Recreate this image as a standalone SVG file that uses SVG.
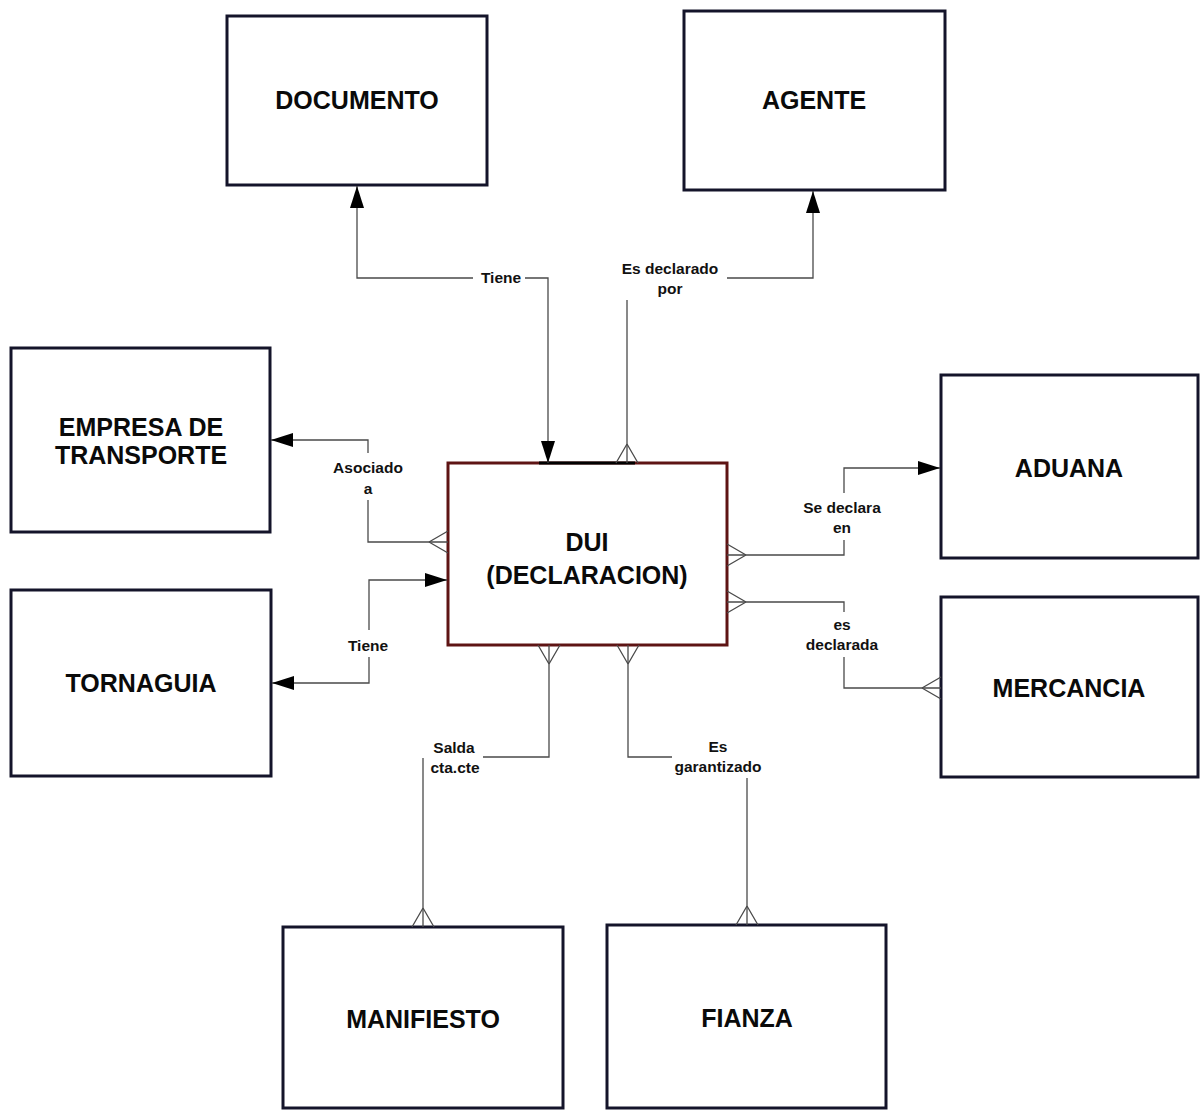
<svg xmlns="http://www.w3.org/2000/svg" width="1203" height="1111" viewBox="0 0 1203 1111">
<style>
.box{fill:#fff;stroke:#14142a;stroke-width:3}
.dui{fill:#fff;stroke:#5e1414;stroke-width:3}
.name{font-family:"Liberation Sans",Arial,sans-serif;font-weight:bold;font-size:25px;fill:#0a0a0a;text-anchor:middle}
.lbl{font-family:"Liberation Sans",Arial,sans-serif;font-weight:bold;font-size:15.5px;fill:#111;text-anchor:middle}
.ln{fill:none;stroke:#4a4a4a;stroke-width:1.3}
</style>
<defs>
<marker id="arr" markerUnits="userSpaceOnUse" viewBox="0 0 22 14" refX="22" refY="7" markerWidth="22" markerHeight="14" orient="auto-start-reverse">
<path d="M0,0 L22,7 L0,14 Z" fill="#000"/>
</marker>
<marker id="crow" markerUnits="userSpaceOnUse" viewBox="0 -12 22 24" refX="20" refY="0" markerWidth="22" markerHeight="24" orient="auto-start-reverse">
<path d="M1,0 L20,-11 M1,0 L20,11" fill="none" stroke="#4a4a4a" stroke-width="1.3"/>
</marker>
</defs>
<rect width="1203" height="1111" fill="#fff"/>

<g id="DOCUMENTO"><rect class="box" x="227" y="16" width="260" height="169"/><text class="name" x="357" y="109">DOCUMENTO</text></g>
<g id="AGENTE"><rect class="box" x="684" y="11" width="261" height="179"/><text class="name" x="814" y="109">AGENTE</text></g>
<g id="EMPRESA"><rect class="box" x="11" y="348" width="259" height="184"/><text class="name" x="141" y="436">EMPRESA DE</text><text class="name" x="141" y="464">TRANSPORTE</text></g>
<g id="TORNAGUIA"><rect class="box" x="11" y="590" width="260" height="186"/><text class="name" x="141" y="692">TORNAGUIA</text></g>
<g id="DUI"><rect class="dui" x="448" y="463" width="279" height="182"/><line x1="539" y1="463" x2="635" y2="463" stroke="#000" stroke-width="3"/><text class="name" x="587" y="551">DUI</text><text class="name" x="587" y="584">(DECLARACION)</text></g>
<g id="ADUANA"><rect class="box" x="941" y="375" width="257" height="183"/><text class="name" x="1069" y="477">ADUANA</text></g>
<g id="MERCANCIA"><rect class="box" x="941" y="597" width="257" height="180"/><text class="name" x="1069" y="697">MERCANCIA</text></g>
<g id="MANIFIESTO"><rect class="box" x="283" y="927" width="280" height="181"/><text class="name" x="423" y="1028">MANIFIESTO</text></g>
<g id="FIANZA"><rect class="box" x="607" y="925" width="279" height="183"/><text class="name" x="747" y="1027">FIANZA</text></g>

<g id="connectors">
<path class="ln" d="M525,278 H548 V463" marker-end="url(#arr)"/>
<path class="ln" d="M473,278 H357 V186" marker-end="url(#arr)"/>
<text class="lbl" x="501" y="283">Tiene</text>

<path class="ln" d="M627,300 V463" marker-end="url(#crow)"/>
<path class="ln" d="M727,278 H813 V191" marker-end="url(#arr)"/>
<text class="lbl" x="670" y="274">Es declarado</text>
<text class="lbl" x="670" y="294">por</text>

<path class="ln" d="M368,500 V542 H448" marker-end="url(#crow)"/>
<path class="ln" d="M368,453 V440 H271" marker-end="url(#arr)"/>
<text class="lbl" x="368" y="473">Asociado</text>
<text class="lbl" x="368" y="494">a</text>

<path class="ln" d="M369,630 V580 H447" marker-end="url(#arr)"/>
<path class="ln" d="M369,657 V683 H272" marker-end="url(#arr)"/>
<text class="lbl" x="368" y="651">Tiene</text>

<path class="ln" d="M727,555 H844 V540" marker-start="url(#crow)"/>
<path class="ln" d="M844,493 V468 H940" marker-end="url(#arr)"/>
<text class="lbl" x="842" y="513">Se declara</text>
<text class="lbl" x="842" y="533">en</text>

<path class="ln" d="M727,602 H844 V612" marker-start="url(#crow)"/>
<path class="ln" d="M844,657 V688 H941" marker-end="url(#crow)"/>
<text class="lbl" x="842" y="630">es</text>
<text class="lbl" x="842" y="650">declarada</text>

<path class="ln" d="M549,645 V757 H483" marker-start="url(#crow)"/>
<path class="ln" d="M423,758 V927" marker-end="url(#crow)"/>
<text class="lbl" x="454" y="753">Salda</text>
<text class="lbl" x="455" y="773">cta.cte</text>

<path class="ln" d="M628,645 V757 H672" marker-start="url(#crow)"/>
<path class="ln" d="M747,778 V925" marker-end="url(#crow)"/>
<text class="lbl" x="718" y="752">Es</text>
<text class="lbl" x="718" y="772">garantizado</text>
</g>
</svg>
